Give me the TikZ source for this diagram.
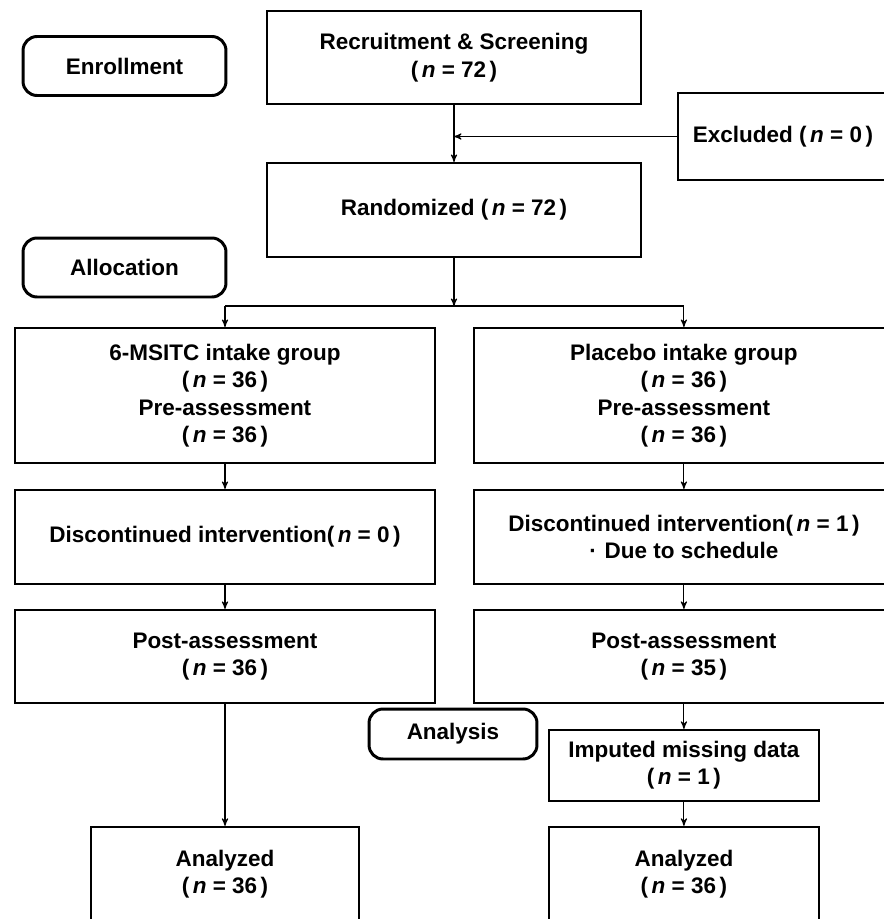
\documentclass[tikz,border=0pt]{standalone}
\usepackage{fontspec}
\setmainfont{Liberation Sans}
\usetikzlibrary{arrows}
\newcommand{\nval}[1]{(\kern2pt\textit{n} = #1\kern2pt)}

\begin{document}
\begin{tikzpicture}[->,>=stealth',x=0.02cm,y=-0.02cm,node distance=9.18cm,line width=0.6pt]
  \tikzstyle{box}=[draw,rectangle,line width=1.2pt,inner sep=0pt,align=center,font=\bfseries\fontsize{12.8}{15.6}\selectfont]
  \tikzstyle{stage}=[box,rounded corners=8pt,line width=1.7pt]
  \useasboundingbox (0,0) rectangle (884,919);
  \clip (0,0) rectangle (884,919);
  % stages on the left
  \node[stage,minimum width=4.06cm,minimum height=1.18cm] (enroll) at (124.5,66)   {Enrollment};
  \node[stage,minimum width=4.06cm,minimum height=1.18cm] (alloc)  at (124.5,267.5) {Allocation};
  \node[stage,minimum width=3.36cm,minimum height=1cm]    (analysis) at (453,734)  {Analysis};
  % enrollment
  \node[box,minimum width=7.48cm,minimum height=1.87cm] (recruit)  at (454,57.5)  {Recruitment \& Screening\\\nval{72}};
  \node[box,minimum width=7.48cm,minimum height=1.88cm] (random)   at (454,210)   {Randomized \nval{72}};
  \node[box,minimum width=4.2cm,minimum height=1.74cm]  (excluded) at (783,136.5) {Excluded \nval{0}};
  % two arms
  \node[box,minimum width=8.4cm,minimum height=2.7cm]  (groupA) at (225,395.5) {6-MSITC intake group\\\nval{36}\\Pre-assessment\\\nval{36}};
  \node[box,minimum width=8.4cm,minimum height=2.7cm]  (groupB) [right of=groupA] {Placebo intake group\\\nval{36}\\Pre-assessment\\\nval{36}};
  \node[box,minimum width=8.4cm,minimum height=1.88cm] (discA) [below of=groupA,node distance=2.83cm] {Discontinued intervention\nval{0}};
  \node[box,minimum width=8.4cm,minimum height=1.88cm] (discB) [right of=discA] {Discontinued intervention\nval{1}\\·\hspace{0.35em}Due to schedule};
  \node[box,minimum width=8.4cm,minimum height=1.86cm] (postA) [below of=discA,node distance=2.39cm] {Post-assessment\\\nval{36}};
  \node[box,minimum width=8.4cm,minimum height=1.86cm] (postB) [right of=postA] {Post-assessment\\\nval{35}};
  \node[box,minimum width=5.4cm,minimum height=1.42cm] (imputed) [below of=postB,node distance=2.18cm] {Imputed missing data\\\nval{1}};
  \node[box,minimum width=5.36cm,minimum height=1.88cm] (analyzedA) [below of=postA,node distance=4.35cm] {Analyzed\\\nval{36}};
  \node[box,minimum width=5.4cm,minimum height=1.88cm] (analyzedB) [right of=analyzedA] {Analyzed\\\nval{36}};
  % joints
  \coordinate (join)   at (recruit.south |- excluded.west);
  \coordinate (split)  at (454,306);
  \coordinate (splitA) at (groupA.north |- split);
  \coordinate (splitB) at (groupB.north |- split);
  \path (recruit)  edge (random)
        (excluded) edge (join)
        (random)   edge (split)
        (splitA)   edge [-] (splitB)
                   edge (groupA)
        (splitB)   edge (groupB)
        (groupA)   edge (discA)
        (discA)    edge (postA)
        (postA)    edge (analyzedA)
        (groupB)   edge (discB)
        (discB)    edge (postB)
        (postB)    edge (imputed)
        (imputed)  edge (analyzedB);
\end{tikzpicture}
\end{document}
